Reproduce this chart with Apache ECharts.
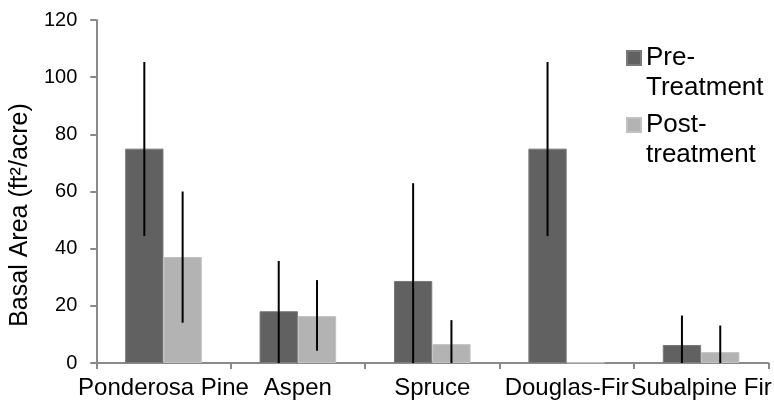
<!DOCTYPE html>
<html>
<head>
<meta charset="utf-8">
<script src="https://cdn.jsdelivr.net/npm/echarts@6/dist/echarts.min.js"></script>
<style>
  html, body { margin: 0; padding: 0; background: #fff; }
  #chart { width: 774px; height: 406px; }
</style>
</head>
<body>
<div id="chart"></div>
<script>
const categories = ['Ponderosa Pine', 'Aspen', 'Spruce', 'Douglas-Fir', 'Subalpine Fir'];
const preValues = [75, 18.1, 28.7, 75, 6.3];
const postValues = [37.1, 16.4, 6.6, 0.2, 3.8];
const preLow = [44.4, 0, 0, 44.4, 0];
const preHigh = [105.3, 35.7, 62.9, 105.3, 16.6];
const postLow = [14.1, 4.3, 0, 0, 0];
const postHigh = [60, 29, 15, 0, 13.1];
const yTicks = [0, 20, 40, 60, 80, 100, 120];

const font = 'Liberation Sans, Arial, sans-serif';
const axisGray = '#8a8a8a';
const barShare = 0.285;

function errorSeries(name, low, high, side) {
    return {
        name: name,
        type: 'custom',
        data: low.map((l, i) => [i, l, high[i]]),
        z: 5,
        silent: true,
        renderItem: function (params, api) {
            const i = api.value(0);
            const band = api.size([1, 0])[0];
            const shift = side * band * barShare / 2;
            const p1 = api.coord([i, api.value(1)]);
            const p2 = api.coord([i, api.value(2)]);
            return {
                type: 'line',
                shape: { x1: p1[0] + shift, y1: p1[1], x2: p2[0] + shift, y2: p2[1] },
                style: { stroke: '#000', lineWidth: 2 }
            };
        }
    };
}

// one legend per series so each two-line entry can be placed on its own
function legendAt(name, label, top) {
    return {
        data: [name],
        left: 626,
        top: top,
        padding: 0,
        itemWidth: 14,
        itemHeight: 14,
        icon: 'rect',
        formatter: function () { return label; },
        textStyle: {
            fontFamily: font,
            fontSize: 26,
            lineHeight: 30,
            color: '#000'
        }
    };
}

const option = {
    animation: false,
    textStyle: { fontFamily: font },
    grid: { left: 92, right: 2, top: 20, bottom: 43 },
    legend: [
        legendAt('Pre-Treatment', '\nPre-\nTreatment', 13),
        legendAt('Post-treatment', '\nPost-\ntreatment', 80)
    ],
    xAxis: {
        type: 'category',
        data: categories,
        axisLine: { lineStyle: { color: axisGray, width: 2 } },
        axisTick: { show: true, length: 6, lineStyle: { color: axisGray, width: 2 } },
        axisLabel: {
            interval: 0,
            hideOverlap: false,
            margin: 13,
            fontSize: 24,
            color: '#000',
            fontFamily: font
        }
    },
    yAxis: {
        type: 'value',
        min: yTicks[0],
        max: yTicks[yTicks.length - 1],
        interval: 20,
        name: 'Basal Area (ft²/acre)',
        nameLocation: 'middle',
        nameRotate: 90,
        nameGap: 51,
        nameTextStyle: { fontSize: 25, color: '#000', fontFamily: font, padding: [0, 47, 0, 0] },
        axisLine: { show: true, lineStyle: { color: axisGray, width: 2 } },
        axisTick: { show: true, length: 6, lineStyle: { color: axisGray, width: 2 } },
        splitLine: { show: false },
        axisLabel: { margin: 19, fontSize: 20, color: '#000', fontFamily: font }
    },
    series: [
        {
            name: 'Pre-Treatment',
            type: 'bar',
            data: preValues,
            barWidth: (barShare * 100) + '%',
            barGap: '0%',
            itemStyle: { color: '#616161', borderColor: '#7a7a7a', borderWidth: 1 }
        },
        {
            name: 'Post-treatment',
            type: 'bar',
            data: postValues,
            barWidth: (barShare * 100) + '%',
            barGap: '0%',
            itemStyle: { color: '#b3b3b3', borderColor: '#c2c2c2', borderWidth: 1 }
        },
        errorSeries('preErr', preLow, preHigh, -1),
        errorSeries('postErr', postLow, postHigh, 1)
    ]
};

echarts.init(document.getElementById('chart')).setOption(option);
</script>
</body>
</html>
